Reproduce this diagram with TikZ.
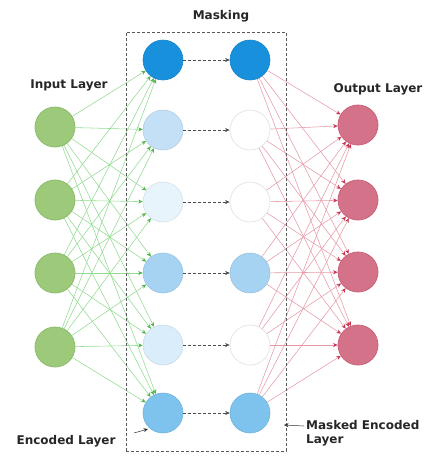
\documentclass[tikz,border=0pt]{standalone}
\usepackage{fontspec}
\setmainfont{DejaVu Sans}
\usetikzlibrary{arrows.meta}
\definecolor{ingreen}{HTML}{9CC97A}
\definecolor{ingreenb}{HTML}{8DBB6C}
\definecolor{gline}{HTML}{92DA90}
\definecolor{ghead}{HTML}{4CB64A}
\definecolor{rline}{HTML}{E69AA8}
\definecolor{rhead}{HTML}{C8344E}
\definecolor{outred}{HTML}{D4728A}
\definecolor{outredb}{HTML}{C8637B}
\definecolor{bA}{HTML}{1890DC}
\definecolor{bB}{HTML}{C3E0F6}
\definecolor{bC}{HTML}{E8F4FC}
\definecolor{bD}{HTML}{A6D3F2}
\definecolor{bE}{HTML}{DAEDFA}
\definecolor{bF}{HTML}{7DC3EE}
\definecolor{wring}{HTML}{E6E6E6}
\tikzset{
  x=1pt,y=-1pt,
  neuron/.style={circle,minimum size=40pt,inner sep=0pt},
  innode/.style={neuron,fill=ingreen,draw=ingreenb,line width=0.8pt},
  outnode/.style={neuron,fill=outred,draw=outredb,line width=0.8pt},
  encnode/.style={neuron,fill=#1,draw=#1!92!black,line width=0.6pt},
  masknode/.style={neuron,fill=white,draw=wring,line width=0.8pt},
  gconn/.style={draw=gline,line width=0.55pt,-{Stealth[length=4.5pt,width=4pt,color=ghead]}},
  rconn/.style={draw=rline,line width=0.55pt,-{Stealth[length=4.5pt,width=4pt,color=rhead]}},
  mconn/.style={draw=black!70,densely dashed,line width=0.5pt,-{Stealth[length=4.5pt,width=4pt]}},
  lbl/.style={font=\bfseries\fontsize{12}{14}\selectfont,text=black!85,inner sep=0pt},
  lblarrow/.style={draw=black!80,line width=0.5pt,-{Stealth[length=4.5pt,width=4pt]}}
}
\begin{document}
\begin{tikzpicture}
\useasboundingbox (0,0) rectangle (430,459);
% input layer
\foreach \i/\y in {1/127,2/200,3/273,4/347}{
  \node[innode] (i\i) at (55,\y) {};
}
% encoded layer
\foreach \i/\y/\c in {1/60/bA,2/130/bB,3/202/bC,4/273/bD,5/345/bE,6/413/bF}{
  \node[encnode=\c] (e\i) at (163,\y) {};
}
% masked layer
\node[encnode=bA] (m1) at (250,60) {};
\node[masknode] (m2) at (250,130) {};
\node[masknode] (m3) at (250,202) {};
\node[encnode=bD] (m4) at (250,273) {};
\node[masknode] (m5) at (250,345) {};
\node[encnode=bF] (m6) at (250,413) {};
% output layer
\foreach \i/\y in {1/125,2/200,3/272,4/345}{
  \node[outnode] (o\i) at (358,\y) {};
}
% connections
\foreach \a in {1,...,4}{
  \foreach \b in {1,...,6}{
    \draw[gconn] (i\a) -- (e\b);
  }
}
\foreach \a in {1,...,6}{
  \foreach \b in {1,...,4}{
    \draw[rconn] (m\a) -- (o\b);
  }
  \draw[mconn] (e\a) -- (m\a);
}
% dashed box
\node[draw=black!65,densely dashed,line width=0.5pt,minimum width=160pt,minimum height=419pt,inner sep=0pt] (box) at (206,241.5) {};
% labels
\node[lbl] (tmask) at (221,16) {Masking};
\node[lbl] (tin) at (69,85) {Input Layer};
\node[lbl] (tout) at (378,89) {Output Layer};
\node[lbl] (tenc) at (66,441) {Encoded Layer};
\node[lbl,align=left,anchor=north west] (tmenc) at (306,420) {Masked Encoded\\Layer};
\coordinate (encst) at (134,433);
\coordinate (encpt) at (148,429);
\coordinate (mst) at (304,426);
\coordinate (boxpt) at (284,425);
\draw[lblarrow] (encst) -- (encpt);
\draw[lblarrow] (mst) -- (boxpt);
\end{tikzpicture}
\end{document}
